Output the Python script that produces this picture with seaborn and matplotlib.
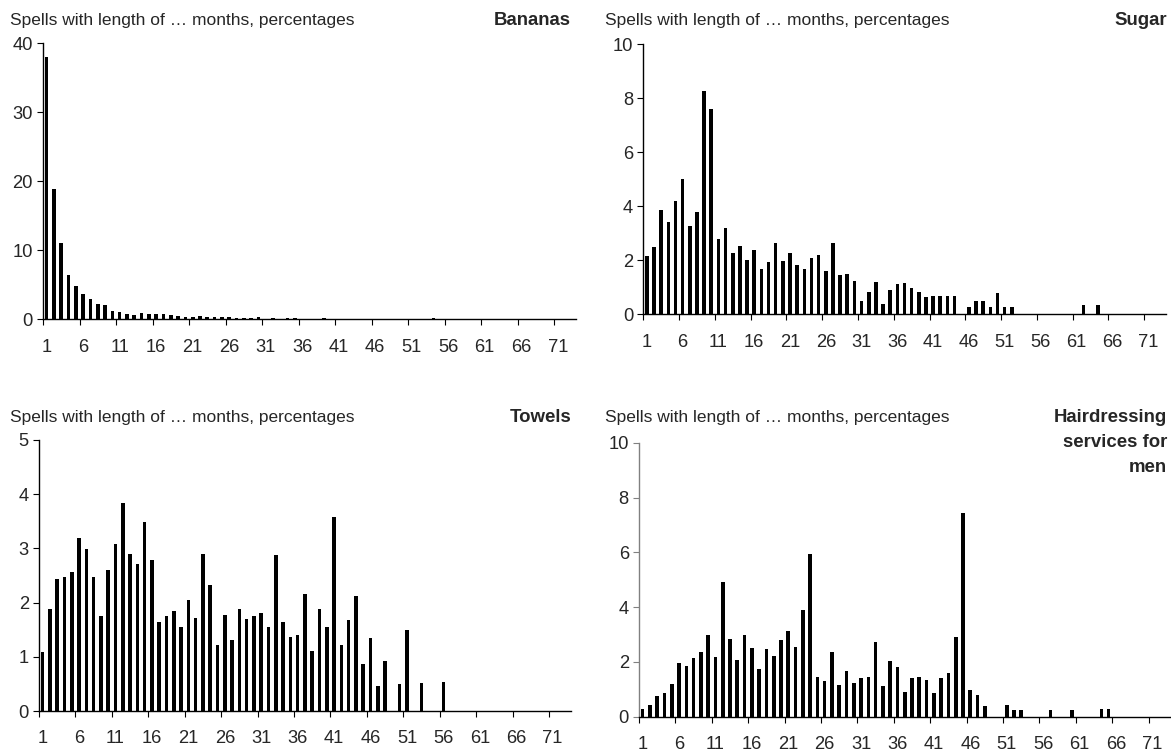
import numpy as np
import pandas as pd
import matplotlib
matplotlib.use("Agg")
import matplotlib.pyplot as plt
import seaborn as sns

months = [str(i) for i in range(1, 74)]
tick_labels = [str(i) for i in range(1, 72, 5)]

bananas = [38.0, 18.9, 11.0, 6.4, 4.8, 3.7, 3.0, 2.2, 2.1, 1.2,
           1.0, 0.7, 0.6, 0.9, 0.8, 0.75, 0.8, 0.6, 0.55, 0.4,
           0.4, 0.5, 0.3, 0.3, 0.35, 0.3, 0.25, 0.25, 0.2, 0.3,
           0.1, 0.2, 0.05, 0.2, 0.2, 0, 0, 0, 0.25, 0,
           0, 0, 0, 0, 0, 0, 0, 0, 0, 0,
           0, 0, 0, 0.15, 0, 0, 0, 0, 0, 0,
           0, 0, 0, 0, 0, 0, 0, 0, 0, 0,
           0, 0, 0]

sugar = [2.16, 2.49, 3.86, 3.41, 4.21, 5.02, 3.27, 3.78, 8.27, 7.59,
         2.78, 3.21, 2.27, 2.52, 2.01, 2.38, 1.68, 1.95, 2.64, 1.96,
         2.27, 1.81, 1.67, 2.10, 2.19, 1.62, 2.64, 1.44, 1.49, 1.25,
         0.48, 0.83, 1.19, 0.37, 0.91, 1.12, 1.16, 0.99, 0.81, 0.64,
         0.67, 0.68, 0.68, 0.69, 0, 0.26, 0.49, 0.50, 0.27, 0.78,
         0.28, 0.28, 0, 0, 0, 0, 0, 0, 0, 0,
         0, 0.33, 0, 0.35, 0, 0, 0, 0, 0, 0,
         0, 0, 0]

towels = [1.08, 1.89, 2.44, 2.48, 2.56, 3.20, 2.98, 2.48, 1.75, 2.61,
          3.09, 3.84, 2.90, 2.71, 3.49, 2.79, 1.65, 1.75, 1.85, 1.55,
          2.04, 1.71, 2.90, 2.32, 1.21, 1.77, 1.31, 1.89, 1.69, 1.75,
          1.80, 1.55, 2.88, 1.65, 1.37, 1.40, 2.15, 1.11, 1.89, 1.55,
          3.58, 1.22, 1.67, 2.13, 0.87, 1.34, 0.46, 0.93, 0, 0.49,
          1.49, 0, 0.52, 0, 0, 0.54, 0, 0, 0, 0,
          0, 0, 0, 0, 0, 0, 0, 0, 0, 0,
          0, 0, 0]

hairdressing = [0.28, 0.43, 0.75, 0.85, 1.18, 1.95, 1.85, 2.14, 2.37, 2.97,
                2.17, 4.90, 2.85, 2.07, 2.97, 2.51, 1.75, 2.46, 2.20, 2.80,
                3.11, 2.53, 3.88, 5.92, 1.45, 1.29, 2.35, 1.16, 1.68, 1.24,
                1.40, 1.46, 2.71, 1.12, 2.03, 1.80, 0.91, 1.42, 1.45, 1.34,
                0.86, 1.40, 1.61, 2.91, 7.43, 0.96, 0.80, 0.40, 0, 0,
                0.43, 0.23, 0.23, 0, 0, 0, 0.24, 0, 0, 0.26,
                0, 0, 0, 0.28, 0.28, 0, 0, 0, 0, 0,
                0, 0, 0]

subtitle = "Spells with length of \u2026 months, percentages"
titles = ["Bananas", "Sugar", "Towels", "Hairdressing\nservices for\nmen"]
series = [bananas, sugar, towels, hairdressing]
yticks = [[0, 10, 20, 30, 40], [0, 2, 4, 6, 8, 10], [0, 1, 2, 3, 4, 5], [0, 2, 4, 6, 8, 10]]

sns.set_style("white")
plt.rcParams["font.family"] = ["Liberation Sans", "DejaVu Sans"]

W, H = 1171, 751
fig = plt.figure(figsize=(W / 100, H / 100), dpi=100)

# axes boxes in pixels: left, right, top, bottom
boxes = [(43, 576, 43.3, 319.3), (643.3, 1165.7, 44.3, 314.3),
         (39, 570.9, 440, 711), (639, 1170.5, 442.7, 716.7)]
sub_pos = [(10, 20), (605, 20), (10, 417), (605, 417)]
title_pos = [(571, 21), (1167, 21), (572, 418), (1167, 418)]
spine_colors = ["black", "black", "black", "#808080"]

for k in range(4):
    l, r, t, b = boxes[k]
    ax = fig.add_axes([l / W, 1 - b / H, (r - l) / W, (b - t) / H])
    df = pd.DataFrame({"month": months, "pct": series[k]})
    sns.barplot(data=df, x="month", y="pct", order=months, color="black",
                saturation=1, width=0.5, linewidth=0, ax=ax)
    ax.set_xlabel("")
    ax.set_ylabel("")
    ax.set_xlim(-0.5, 72.5)
    ax.set_ylim(yticks[k][0], yticks[k][-1])
    ax.set_yticks(yticks[k])
    ax.set_yticklabels([str(v) for v in yticks[k]])
    ax.set_xticks(np.arange(-0.5, 70, 5))
    ax.set_xticklabels([""] * len(np.arange(-0.5, 70, 5)))
    ax.set_xticks(np.arange(0, 71, 5), minor=True)
    ax.set_xticklabels(tick_labels, minor=True)
    ax.tick_params(axis="x", which="major", length=4.3, width=0.8,
                   direction="out", bottom=True, color="black")
    ax.tick_params(axis="x", which="minor", length=0, pad=14, labelsize=13.2)
    ax.tick_params(axis="y", which="major", length=4.3, width=0.8, direction="out",
                   left=True, pad=3, labelsize=13.2, color=spine_colors[k])
    for side in ["top", "right"]:
        ax.spines[side].set_visible(False)
    ax.spines["bottom"].set_color("black")
    ax.spines["bottom"].set_linewidth(1.0)
    ax.spines["left"].set_color(spine_colors[k])
    ax.spines["left"].set_linewidth(1.0)
    ax.patch.set_alpha(0)
    ax.grid(False)

    sx, sy = sub_pos[k]
    fig.text(sx / W, 1 - sy / H, subtitle, ha="left", va="center", fontsize=12.5)
    tx, ty = title_pos[k]
    fig.text(tx / W, 1 - (ty - 9) / H, titles[k], ha="right", va="top",
             fontsize=13.4, fontweight="bold", linespacing=1.6)

fig.savefig("out.png", dpi=100)
